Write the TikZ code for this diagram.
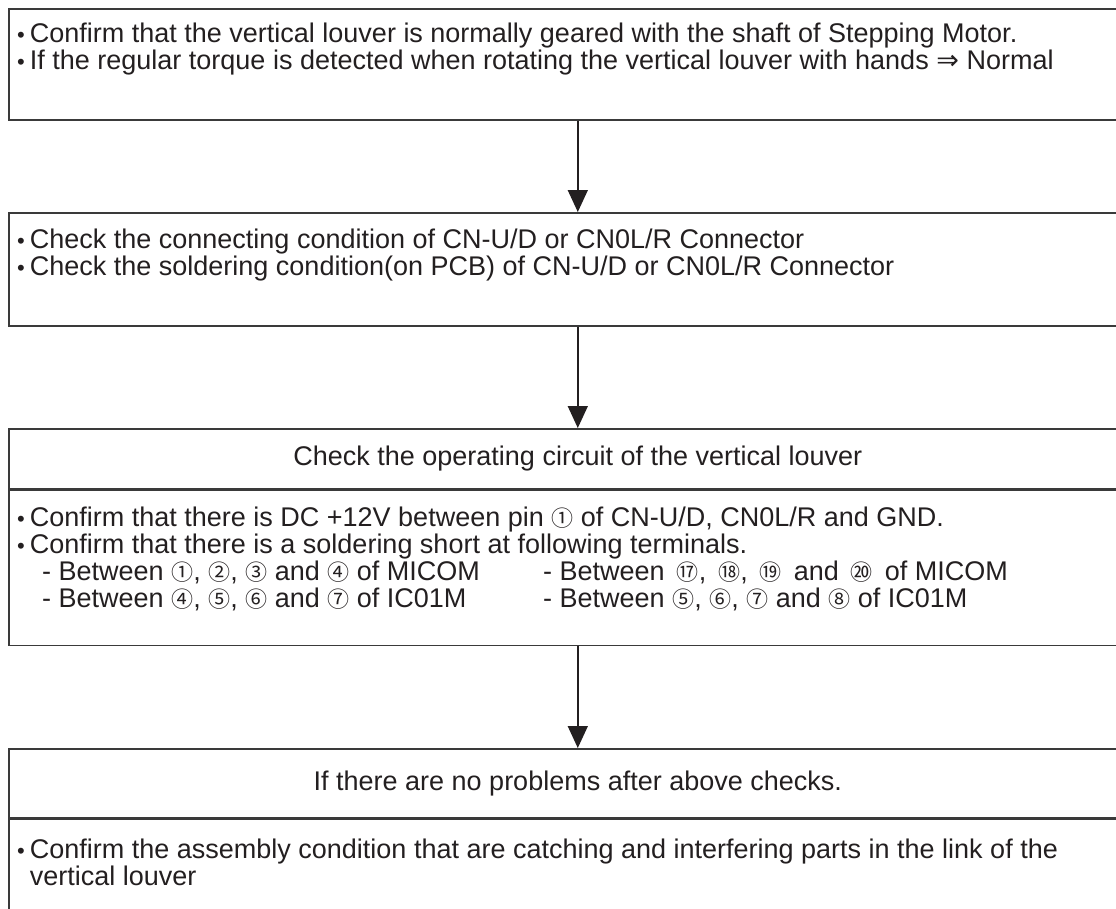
\documentclass[tikz,border=0pt]{standalone}
\usepackage{fontspec}
\setmainfont{Liberation Sans}
\newfontfamily\symfont{DejaVu Sans}
\newfontfamily\cjkfont{Noto Sans CJK JP}
\usetikzlibrary{arrows.meta, positioning, calc}

\definecolor{boxgray}{HTML}{3A3A3A}
\definecolor{inkblack}{HTML}{231F20}
\newcommand{\bul}{\hspace*{1pt}{\fontsize{22}{22}\selectfont •}\hspace{5pt}}
\newcommand{\cn}[1]{\smash{\cjkfont\fontsize{22}{27}\selectfont #1}}

\tikzset{
  box/.style={draw=boxgray, line width=1.6pt, minimum width=1138pt, inner sep=0pt, anchor=north west},
  txt/.style={anchor=north west, inner sep=0pt, align=left, font=\fontsize{27}{27}\selectfont, text=inkblack},
  head/.style={inner sep=0pt, font=\fontsize{27}{27}\selectfont, text=inkblack},
  flow/.style={-{Triangle[length=22pt,width=20pt]}, line width=1.4pt, draw=inkblack},
}

\begin{document}
\begin{tikzpicture}[x=1pt, y=-1pt]
\useasboundingbox (0,0) rectangle (1116,908);
\clip (0,0) rectangle (1116,908);

% boxes
\node[box, minimum height=111pt] (b1) at (8,8) {};
\node[box, minimum height=113pt] (b2) at (8,212) {};
\node[box, minimum height=60pt] (b3h) at (8,428) {};
\node[box, minimum height=155pt] (b3) at (b3h.south west) {};
\node[box, minimum height=69pt] (b4h) at (8,748) {};
\node[box, minimum height=130pt] (b4) at (b4h.south west) {};

% texts
\node[txt] (t1) at ($(b1.north west)+(8,15)$) {\bul Confirm that the vertical louver is normally geared with the shaft of Stepping Motor.\\
\bul If the regular torque is detected when rotating the vertical louver with hands {\symfont ⇒} Normal};

\node[txt] (t2) at ($(b2.north west)+(8,17)$) {\bul Check the connecting condition of CN-U/D or CN0L/R Connector\\
\bul Check the soldering condition(on PCB) of CN-U/D or CN0L/R Connector};

\node[head] (h3) at (b3h.center) {Check the operating circuit of the vertical louver};
\node[txt] (t3) at ($(b3.north west)+(8,17)$) {\bul Confirm that there is DC +12V between pin \cn{①} of CN-U/D, CN0L/R and GND.\\
\bul Confirm that there is a soldering short at following terminals.\\
\hspace*{26pt}\makebox[501pt][l]{- Between \cn{①}, \cn{②}, \cn{③} and \cn{④} of MICOM}- Between \,\cn{⑰}, \,\cn{⑱}, \,\cn{⑲} \,and \,\cn{⑳} \,of MICOM\\
\hspace*{26pt}\makebox[501pt][l]{- Between \cn{④}, \cn{⑤}, \cn{⑥} and \cn{⑦} of IC01M}- Between \cn{⑤}, \cn{⑥}, \cn{⑦} and \cn{⑧} of IC01M};

\node[head] (h4) at (b4h.center) {If there are no problems after above checks.};
\node[txt] (t4) at ($(b4.north west)+(8,20)$) {\bul Confirm the assembly condition that are catching and interfering parts in the link of the\\
\phantom{\bul}vertical louver};

% arrows
\draw[flow] (b1.south) -- (b2.north);
\draw[flow] (b2.south) -- (b3h.north);
\draw[flow] (b3.south) -- (b4h.north);
\end{tikzpicture}
\end{document}
